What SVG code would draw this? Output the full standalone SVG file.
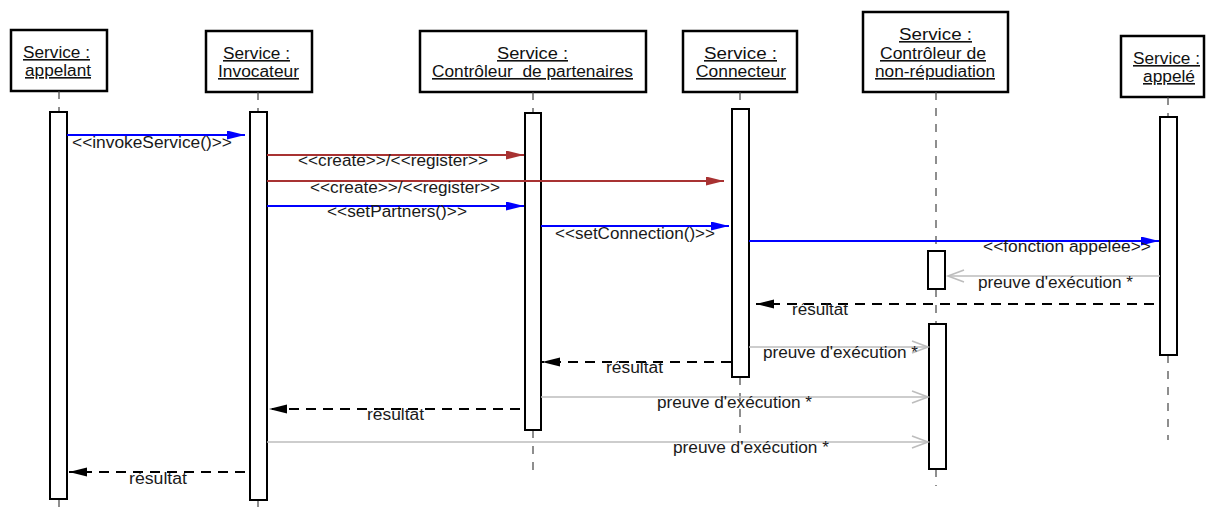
<svg xmlns="http://www.w3.org/2000/svg" width="1206" height="513" viewBox="0 0 1206 513">
<style>
text{font-family:"Liberation Sans",Arial,sans-serif;font-size:16px;font-weight:normal;fill:#1a1a1a}
.hd{fill:#111;text-decoration:underline}
.box{fill:#fff;stroke:#000;stroke-width:2.5}
.act{fill:#fff;stroke:#000;stroke-width:2}
.life{stroke:#444;stroke-width:1.2;stroke-dasharray:8,8;fill:none}
.blue{stroke:#0000ff;stroke-width:2;fill:none;marker-end:url(#ab)}
.red{stroke:#a83232;stroke-width:2;fill:none;marker-end:url(#ar)}
.ret{stroke:#000;stroke-width:2;stroke-dasharray:10,7;fill:none;marker-end:url(#ak)}
.proof{stroke:#bdbdbd;stroke-width:1.6;fill:none;marker-end:url(#ag)}
</style>
<defs>
<marker id="ab" markerUnits="userSpaceOnUse" markerWidth="20" markerHeight="12" refX="18" refY="4.5" orient="auto"><path d="M0,0 L18,4.5 L0,9 z" fill="#0000ff"/></marker>
<marker id="ar" markerUnits="userSpaceOnUse" markerWidth="20" markerHeight="12" refX="18" refY="4.5" orient="auto"><path d="M0,0 L18,4.5 L0,9 z" fill="#a83232"/></marker>
<marker id="ak" markerUnits="userSpaceOnUse" markerWidth="20" markerHeight="12" refX="18" refY="4.5" orient="auto"><path d="M0,0 L18,4.5 L0,9 z" fill="#000"/></marker>
<marker id="ag" markerUnits="userSpaceOnUse" markerWidth="20" markerHeight="16" refX="17" refY="7" orient="auto"><path d="M1,1 L17,7 L1,13" fill="none" stroke="#bdbdbd" stroke-width="1.6"/></marker>
</defs>

<g id="appelant">
<rect class="box" x="11" y="30" width="96" height="61"/>
<text class="hd" x="23" y="58" textLength="67" lengthAdjust="spacingAndGlyphs">Service :</text>
<text class="hd" x="25" y="76" textLength="66" lengthAdjust="spacingAndGlyphs">appelant</text>
<path class="life" d="M59,91 V112 M59,499 V507"/>
<rect class="act" x="50" y="112" width="17" height="387"/>
</g>

<g id="invocateur">
<rect class="box" x="206" y="31" width="106" height="61"/>
<text class="hd" x="223" y="59" textLength="67" lengthAdjust="spacingAndGlyphs">Service :</text>
<text class="hd" x="218" y="77" textLength="81" lengthAdjust="spacingAndGlyphs">Invocateur</text>
<path class="life" d="M258,92 V112 M258,500 V507"/>
<rect class="act" x="250" y="112" width="17" height="388"/>
</g>

<g id="partenaires">
<rect class="box" x="420" y="31" width="226" height="61"/>
<text class="hd" x="497" y="59" textLength="71" lengthAdjust="spacingAndGlyphs">Service :</text>
<text class="hd" x="432" y="77" textLength="201" lengthAdjust="spacingAndGlyphs" xml:space="preserve">Contrôleur  de partenaires</text>
<path class="life" d="M533,92 V113 M533,430 V470"/>
<rect class="act" x="525" y="113" width="16" height="317"/>
</g>

<g id="connecteur">
<rect class="box" x="683" y="31" width="114" height="61"/>
<text class="hd" x="704" y="59" textLength="73" lengthAdjust="spacingAndGlyphs">Service :</text>
<text class="hd" x="696" y="77" textLength="90" lengthAdjust="spacingAndGlyphs">Connecteur</text>
<path class="life" d="M740,92 V109 M740,377 V433"/>
<rect class="act" x="732" y="109" width="17" height="268"/>
</g>

<g id="nonrepudiation">
<rect class="box" x="863" y="12" width="145" height="80"/>
<text class="hd" x="899" y="40" textLength="73" lengthAdjust="spacingAndGlyphs">Service :</text>
<text class="hd" x="880" y="59" textLength="106" lengthAdjust="spacingAndGlyphs">Contrôleur de</text>
<text class="hd" x="875" y="77" textLength="120" lengthAdjust="spacingAndGlyphs">non-répudiation</text>
<path class="life" d="M936,92 V251 M936,289 V324 M936,469 V486"/>
<rect class="act" x="928" y="251" width="17" height="38"/>
<rect class="act" x="929" y="324" width="17" height="145"/>
</g>

<g id="appele">
<rect class="box" x="1121" y="36" width="83" height="61"/>
<text class="hd" x="1133" y="64" textLength="67" lengthAdjust="spacingAndGlyphs">Service :</text>
<text class="hd" x="1143" y="82" textLength="52" lengthAdjust="spacingAndGlyphs">appelé</text>
<path class="life" d="M1168,97 V117 M1168,355 V440"/>
<rect class="act" x="1160" y="117" width="17" height="238"/>
</g>

<g id="connectors">
<path class="blue" d="M67,135 H245"/>
<text x="72" y="148" textLength="160" lengthAdjust="spacingAndGlyphs">&lt;&lt;invokeService()&gt;&gt;</text>

<path class="red" d="M267,155 H524"/>
<text x="298" y="166" textLength="190" lengthAdjust="spacingAndGlyphs">&lt;&lt;create&gt;&gt;/&lt;&lt;register&gt;&gt;</text>

<path class="red" d="M267,181 H724"/>
<text x="310" y="193" textLength="190" lengthAdjust="spacingAndGlyphs">&lt;&lt;create&gt;&gt;/&lt;&lt;register&gt;&gt;</text>

<path class="blue" d="M267,206 H524"/>
<text x="327" y="217" textLength="140" lengthAdjust="spacingAndGlyphs">&lt;&lt;setPartners()&gt;&gt;</text>

<path class="blue" d="M541,226 H729"/>
<text x="555" y="239" textLength="160" lengthAdjust="spacingAndGlyphs">&lt;&lt;setConnection()&gt;&gt;</text>

<path class="blue" d="M749,241 H1159"/>
<text x="983" y="252" textLength="168" lengthAdjust="spacingAndGlyphs">&lt;&lt;fonction appelée&gt;&gt;</text>

<path class="proof" d="M1160,276 H948"/>
<text x="978" y="288" textLength="155" lengthAdjust="spacingAndGlyphs">preuve d'exécution *</text>

<path class="ret" d="M1154,304 H756"/>
<text x="792" y="315" textLength="56" lengthAdjust="spacingAndGlyphs">résultat</text>

<path class="proof" d="M749,347 H928"/>
<text x="763" y="358" textLength="155" lengthAdjust="spacingAndGlyphs">preuve d'exécution *</text>

<path class="ret" d="M731,362 H542"/>
<text x="606" y="373" textLength="57" lengthAdjust="spacingAndGlyphs">résultat</text>

<path class="proof" d="M541,397 H928"/>
<text x="657" y="408" textLength="155" lengthAdjust="spacingAndGlyphs">preuve d'exécution *</text>

<path class="ret" d="M520,409 H269"/>
<text x="367" y="420" textLength="57" lengthAdjust="spacingAndGlyphs">résultat</text>

<path class="proof" d="M267,442 H928"/>
<text x="673" y="453" textLength="156" lengthAdjust="spacingAndGlyphs">preuve d'exécution *</text>

<path class="ret" d="M245,472 H69"/>
<text x="129" y="484" textLength="58" lengthAdjust="spacingAndGlyphs">résultat</text>
</g>
</svg>
